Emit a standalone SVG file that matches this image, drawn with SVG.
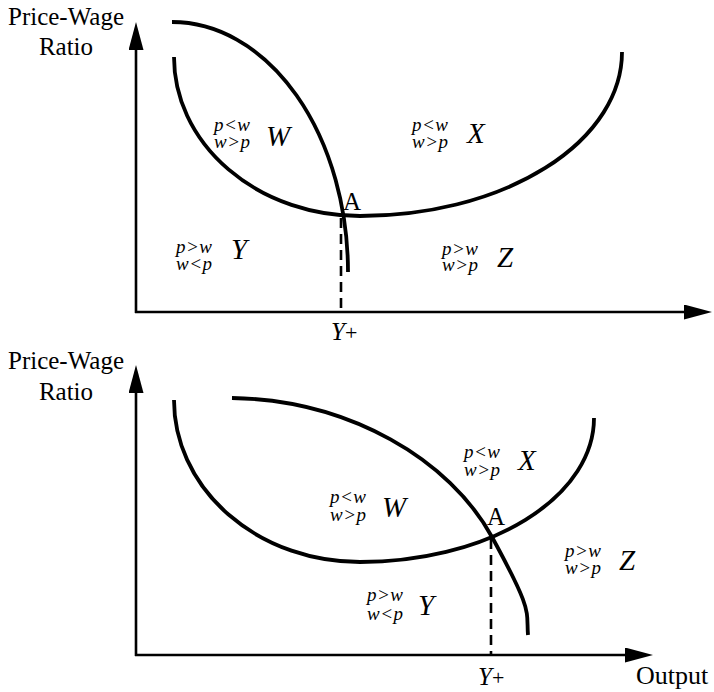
<svg xmlns="http://www.w3.org/2000/svg" width="714" height="692" viewBox="0 0 714 692">
<style>
.lbl{font-family:"Liberation Serif","Times New Roman",serif;font-size:25px;fill:#000}
.it{font-family:"Liberation Serif","Times New Roman",serif;font-style:italic;fill:#000}
.sm{font-size:19px;letter-spacing:0.5px}
.big{font-size:29px}
.plus{font-family:"Liberation Serif","Times New Roman",serif;font-style:normal;font-size:22px}
.axis{stroke:#000;stroke-width:2.6;fill:none}
.curve{stroke:#000;stroke-width:3.8;fill:none}
.dash{stroke:#000;stroke-width:2.6;fill:none;stroke-dasharray:10,6}
</style>
<defs>
<marker id="arr" viewBox="0 0 28 15" markerWidth="28" markerHeight="15" refX="1" refY="7.5" orient="auto" markerUnits="userSpaceOnUse">
<path d="M0,0 L28,7.5 L0,15 z" fill="#000"/>
</marker>
</defs>
<g id="connectors">
<line class="axis" x1="136" y1="313" x2="136" y2="49" marker-end="url(#arr)"/>
<line class="axis" x1="135" y1="312" x2="685" y2="312" marker-end="url(#arr)"/>
<line class="axis" x1="136" y1="656" x2="136" y2="392" marker-end="url(#arr)"/>
<line class="axis" x1="135" y1="655" x2="626" y2="655" marker-end="url(#arr)"/>
<path class="curve" d="M174,57 A186,159 0 0 0 360,216 A262,164 0 0 0 622,52"/>
<path class="curve" d="M172,22 A176,250 0 0 1 348,272"/>
<line class="dash" x1="341" y1="218" x2="341" y2="312"/>
<path class="curve" d="M174,400 A186,162 0 0 0 360,562 A234,144 0 0 0 594,418"/>
<path class="curve" d="M232,398 C350,400 450,460 492,537 S526,610 528,635"/>
<line class="dash" x1="491" y1="539" x2="491" y2="655"/>
</g>
<g id="axis-labels-top">
<text class="lbl" x="66" y="25" text-anchor="middle">Price-Wage</text>
<text class="lbl" x="66" y="55" text-anchor="middle">Ratio</text>
<text class="it" font-size="25" x="331" y="340">Y<tspan class="plus">+</tspan></text>
</g>
<g id="axis-labels-bottom">
<text class="lbl" x="66" y="369" text-anchor="middle">Price-Wage</text>
<text class="lbl" x="66" y="400" text-anchor="middle">Ratio</text>
<text class="it" font-size="25" x="478" y="685">Y<tspan class="plus">+</tspan></text>
<text class="lbl" x="636" y="684" style="font-size:26px">Output</text>
</g>
<g id="top-A"><text class="lbl" x="343" y="210">A</text></g>
<g id="top-W">
<text class="it sm" x="214" y="131">p&lt;w<tspan x="214" dy="17">w&gt;p</tspan></text>
<text class="it big" x="266" y="146">W</text>
</g>
<g id="top-X">
<text class="it sm" x="412" y="131">p&lt;w<tspan x="412" dy="17">w&gt;p</tspan></text>
<text class="it big" x="467" y="143">X</text>
</g>
<g id="top-Y">
<text class="it sm" x="176" y="253">p&gt;w<tspan x="176" dy="17">w&lt;p</tspan></text>
<text class="it big" x="231" y="259">Y</text>
</g>
<g id="top-Z">
<text class="it sm" x="442" y="255">p&gt;w<tspan x="442" dy="16">w&gt;p</tspan></text>
<text class="it big" x="497" y="267">Z</text>
</g>
<g id="bottom-A"><text class="lbl" x="487" y="525">A</text></g>
<g id="bottom-X">
<text class="it sm" x="464" y="458">p&lt;w<tspan x="464" dy="18">w&gt;p</tspan></text>
<text class="it big" x="518" y="470">X</text>
</g>
<g id="bottom-W">
<text class="it sm" x="330" y="503">p&lt;w<tspan x="330" dy="18">w&gt;p</tspan></text>
<text class="it big" x="382" y="517">W</text>
</g>
<g id="bottom-Y">
<text class="it sm" x="367" y="601">p&gt;w<tspan x="367" dy="19">w&lt;p</tspan></text>
<text class="it big" x="418" y="615">Y</text>
</g>
<g id="bottom-Z">
<text class="it sm" x="565" y="557">p&gt;w<tspan x="565" dy="17">w&gt;p</tspan></text>
<text class="it big" x="619" y="570">Z</text>
</g>
</svg>
